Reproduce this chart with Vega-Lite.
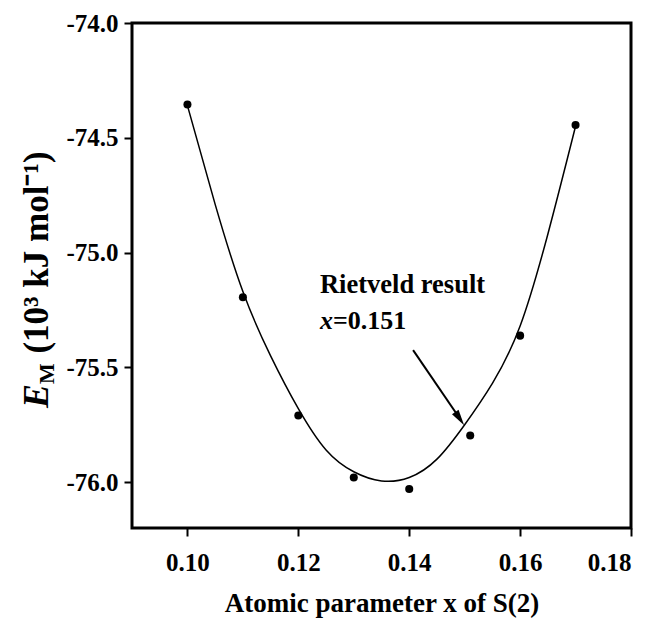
{
  "$schema": "https://vega.github.io/schema/vega-lite/v6.json",
  "autosize": "none",
  "width": 499,
  "height": 505,
  "padding": {"left": 132, "top": 23, "right": 27, "bottom": 92},
  "background": "white",
  "config": {
    "font": "Liberation Serif",
    "view": {"stroke": "black", "strokeWidth": 3},
    "axis": {
      "grid": false,
      "domain": false,
      "labelFont": "Liberation Serif",
      "labelFontWeight": "bold",
      "labelFontSize": 25,
      "labelColor": "black",
      "titleFont": "Liberation Serif",
      "titleFontWeight": "bold",
      "titleFontSize": 27,
      "titleColor": "black"
    }
  },
  "datasets": {
    "points": [
      {"x": 0.100, "E": -74.355},
      {"x": 0.110, "E": -75.195},
      {"x": 0.120, "E": -75.710},
      {"x": 0.130, "E": -75.980},
      {"x": 0.140, "E": -76.030},
      {"x": 0.151, "E": -75.797},
      {"x": 0.160, "E": -75.362},
      {"x": 0.170, "E": -74.444}
    ],
    "fit": [
      {"x": 0.100, "E": -74.36},
      {"x": 0.105, "E": -74.79},
      {"x": 0.110, "E": -75.17},
      {"x": 0.115, "E": -75.45},
      {"x": 0.120, "E": -75.68},
      {"x": 0.125, "E": -75.86},
      {"x": 0.130, "E": -75.955},
      {"x": 0.135, "E": -75.995},
      {"x": 0.140, "E": -75.98},
      {"x": 0.145, "E": -75.90},
      {"x": 0.150, "E": -75.75},
      {"x": 0.155, "E": -75.57},
      {"x": 0.160, "E": -75.32},
      {"x": 0.165, "E": -74.92},
      {"x": 0.170, "E": -74.45}
    ],
    "arrow": [
      {"x": 0.1407, "E": -75.425, "x2": 0.1494, "E2": -75.733}
    ],
    "arrowTip": [
      {"x": 0.1499, "E": -75.752}
    ],
    "noteLine1": [{"x": 0.1239, "E": -75.176, "text": "Rietveld result"}],
    "noteVar": [{"x": 0.1239, "E": -75.333, "text": "x"}],
    "noteValue": [{"x": 0.1239, "E": -75.333, "text": "=0.151"}],
    "yTitleE": [{"x": 0.07485, "E": -75.677, "text": "E"}],
    "yTitleSub": [{"x": 0.07593, "E": -75.573, "text": "M"}],
    "yTitleUnit": [{"x": 0.07485, "E": -75.44, "text": "(10³ kJ mol⁻¹)"}]
  },
  "encoding": {
    "x": {
      "field": "x",
      "type": "quantitative",
      "scale": {"domain": [0.09, 0.18], "nice": false, "zero": false},
      "axis": {
        "values": [0.10, 0.12, 0.14, 0.16, 0.18],
        "format": ".2f",
        "ticks": true,
        "tickSize": 8,
        "tickWidth": 2,
        "tickColor": "black",
        "tickOpacity": 1,
        "labelPadding": 14,
        "title": "Atomic parameter x of S(2)",
        "titlePadding": 15
      }
    },
    "y": {
      "field": "E",
      "type": "quantitative",
      "scale": {"domain": [-76.2, -74.0], "nice": false, "zero": false},
      "axis": {
        "values": [-76.0, -75.5, -75.0, -74.5, -74.0],
        "labelExpr": "replace(format(datum.value, '.1f'), '−', '-')",
        "ticks": true,
        "tickSize": 8,
        "tickWidth": 2,
        "tickColor": "black",
        "tickOpacity": 1,
        "labelPadding": 6,
        "title": null
      }
    }
  },
  "layer": [
    {
      "data": {"name": "fit"},
      "mark": {"type": "line", "color": "black", "strokeWidth": 1.5, "interpolate": "natural"}
    },
    {
      "data": {"name": "points"},
      "mark": {"type": "point", "filled": true, "color": "black", "opacity": 1, "size": 65}
    },
    {
      "data": {"name": "arrow"},
      "mark": {"type": "rule", "color": "black", "strokeWidth": 2},
      "encoding": {"x2": {"field": "x2"}, "y2": {"field": "E2"}}
    },
    {
      "data": {"name": "arrowTip"},
      "mark": {"type": "point", "filled": true, "color": "black", "opacity": 1, "size": 1000, "angle": -34, "shape": "M0,0L-0.25,-1L0.25,-1Z"}
    },
    {
      "data": {"name": "noteLine1"},
      "mark": {"type": "text", "align": "left", "baseline": "alphabetic", "fontSize": 26.5, "fontWeight": "bold", "color": "black"},
      "encoding": {"text": {"field": "text"}}
    },
    {
      "data": {"name": "noteVar"},
      "mark": {"type": "text", "align": "left", "baseline": "alphabetic", "fontSize": 26, "fontWeight": "bold", "fontStyle": "italic", "color": "black"},
      "encoding": {"text": {"field": "text"}}
    },
    {
      "data": {"name": "noteValue"},
      "mark": {"type": "text", "align": "left", "baseline": "alphabetic", "dx": 13, "fontSize": 26, "fontWeight": "bold", "color": "black"},
      "encoding": {"text": {"field": "text"}}
    },
    {
      "data": {"name": "yTitleE"},
      "mark": {"type": "text", "align": "left", "baseline": "alphabetic", "angle": 270, "fontSize": 36, "fontWeight": "bold", "fontStyle": "italic", "color": "black"},
      "encoding": {"text": {"field": "text"}}
    },
    {
      "data": {"name": "yTitleSub"},
      "mark": {"type": "text", "align": "left", "baseline": "alphabetic", "angle": 270, "fontSize": 22, "fontWeight": "bold", "color": "black"},
      "encoding": {"text": {"field": "text"}}
    },
    {
      "data": {"name": "yTitleUnit"},
      "mark": {"type": "text", "align": "left", "baseline": "alphabetic", "angle": 270, "fontSize": 35, "fontWeight": "bold", "color": "black"},
      "encoding": {"text": {"field": "text"}}
    }
  ]
}
